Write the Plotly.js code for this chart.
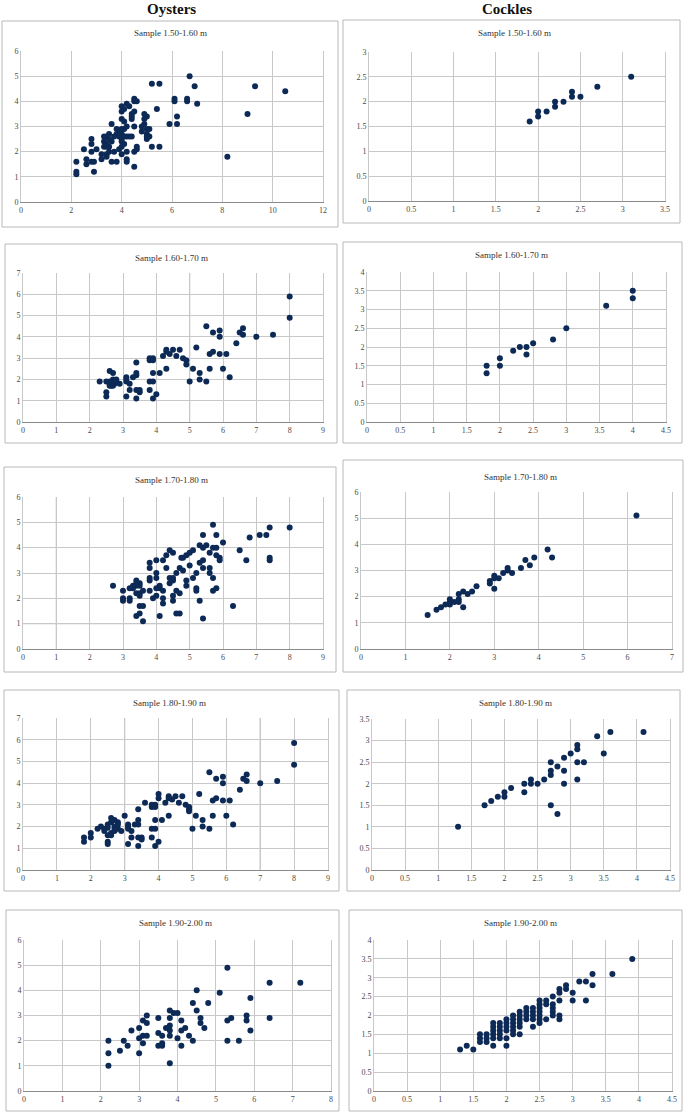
<!DOCTYPE html>
<html><head><meta charset="utf-8">
<script src="https://cdn.plot.ly/plotly-3.0.1.min.js"></script>
<style>html,body{margin:0;padding:0;background:#fff}#chart{width:685px;height:1114px}</style>
</head><body><div id="chart"></div>
<script>
const W = 685, H = 1114;
const columnHeaders = ['Oysters', 'Cockles'];
const sampleLabels = ['Sample 1.50-1.60 m', 'Sample 1.60-1.70 m', 'Sample 1.70-1.80 m', 'Sample 1.80-1.90 m', 'Sample 1.90-2.00 m'];

// Oysters, [x, y] points
const oysters150 = [[6.7,5.0],[6.9,4.6],[5.2,4.7],[5.5,4.7],[9.3,4.6],[10.5,4.4],[6.1,4.1],[6.1,4.0],[6.6,4.1],[6.6,4.0],[7.0,3.9],[9.0,3.5],[6.2,3.4],[5.9,3.1],[6.2,3.1],[5.4,3.7],[8.2,1.8],[5.2,2.2],[5.5,2.2],
[4.5,4.1],[4.6,4.0],[4.5,4.0],[4.2,3.9],[4.3,3.8],[4.0,3.8],[4.0,3.6],[4.1,3.7],[4.4,3.5],[4.5,3.6],[4.4,3.3],[4.5,3.0],[4.9,3.5],[5.0,3.4],[4.9,3.3],[4.9,3.1],[5.0,2.9],[5.1,2.9],[4.8,2.8],[5.0,2.7],[5.0,2.6],[5.1,2.6],[5.0,2.5],
[3.6,3.1],[4.0,3.3],[4.1,3.2],[3.8,2.9],[4.0,2.9],[4.1,2.9],[3.7,2.6],[3.8,2.7],[3.9,2.6],[4.0,2.7],[4.1,2.6],[4.2,2.6],[4.4,2.6],[4.0,2.5],[4.0,2.4],[4.1,2.3],[3.5,2.7],[3.4,2.6],[3.3,2.6],[3.3,2.4],[3.4,2.3],[3.5,2.2],[3.6,2.4],[3.4,2.2],[3.3,2.2],
[2.8,2.5],[2.8,2.3],[2.5,2.1],[3.0,2.1],[3.2,1.9],[3.4,1.9],[3.4,1.8],[2.8,2.0],[3.2,1.7],[2.6,1.7],[2.6,1.5],[2.8,1.6],[2.9,1.6],[2.2,1.6],[2.2,1.2],[2.2,1.1],[2.9,1.2],[3.6,1.6],[3.8,1.6],[3.7,2.0],[4.0,2.2],[4.0,1.9],[4.2,2.0],[4.2,1.7],[4.2,1.6],[4.5,2.0],[4.6,2.2],[4.5,1.4],[4.6,2.1],[3.5,2.0],[3.9,2.1],[4.3,2.6],[4.4,3.4],[4.2,3.0],[3.9,2.8],[3.5,2.5],[4.8,3.0]];

const oysters160 = [[8.0,5.9],[8.0,4.9],[5.5,4.5],[5.7,4.2],[5.9,4.3],[5.9,4.0],[6.5,4.2],[6.6,4.4],[6.6,4.1],[7.0,4.0],[7.5,4.1],[6.4,3.7],[5.2,3.5],[5.6,3.2],[5.7,3.3],[5.9,3.2],[6.1,3.2],[5.1,2.5],[5.3,2.3],[5.6,2.5],[6.0,2.5],[5.3,2.0],[5.5,1.9],[5.0,1.9],[6.2,2.1],
[4.9,2.9],[4.9,2.7],[4.8,3.0],[4.7,3.4],[4.5,3.4],[4.6,3.1],[4.3,3.4],[4.4,3.2],[4.2,3.1],[4.3,3.3],[4.3,2.5],[4.1,2.3],[3.9,2.3],[3.8,3.0],[3.9,3.0],[3.8,2.9],[3.9,2.9],[3.8,1.9],[3.9,1.9],[3.8,1.5],[4.0,1.3],[3.9,1.1],
[3.4,2.8],[3.4,2.3],[3.4,2.2],[3.3,2.1],[3.1,2.1],[3.1,1.9],[3.2,1.8],[3.1,2.0],[3.2,1.5],[3.4,1.5],[3.5,1.5],[3.5,1.4],[3.1,1.2],[3.4,1.1],
[2.3,1.9],[2.6,2.4],[2.7,2.3],[2.5,1.9],[2.6,1.9],[2.7,2.0],[2.75,1.9],[2.8,1.9],[2.65,1.7],[2.6,1.7],[2.75,1.8],[2.9,1.8],[2.5,1.4],[2.5,1.2],[2.6,1.8],[2.7,1.7],[2.8,2.0]];

const oysters170 = [[8.0,4.8],[7.4,4.8],[7.3,4.5],[7.1,4.5],[6.8,4.4],[6.5,3.9],[6.7,3.5],[7.4,3.6],[7.4,3.5],[6.3,1.7],[6.0,4.2],[5.7,4.9],[5.4,4.5],[5.8,4.5],[5.3,4.1],[5.4,4.0],[5.5,4.1],[5.7,4.0],[5.8,4.0],[5.6,3.8],[5.8,3.7],[5.9,3.6],[5.9,3.5],[5.4,3.5],[5.3,3.4],[5.4,3.2],[5.6,3.2],[5.6,3.0],[5.7,2.8],[5.8,2.4],[5.7,2.3],
[5.2,3.0],[5.1,2.8],[5.2,2.4],[5.2,2.3],[5.3,1.9],[5.4,1.2],[5.0,3.3],[5.0,3.8],[5.1,3.9],[4.9,3.7],[4.8,3.6],[4.75,3.6],[4.7,3.2],[4.8,3.1],[4.6,3.0],[4.9,2.7],[4.9,2.5],[4.5,3.8],[4.4,3.9],[4.3,3.7],[4.2,3.5],[4.3,3.2],[4.4,2.8],[4.5,2.7],[4.4,2.6],[4.5,2.8],[4.6,2.3],[4.7,2.2],[4.5,2.1],[4.5,1.9],[4.6,1.4],[4.7,1.4],
[4.0,3.5],[4.0,3.0],[4.0,2.8],[3.8,3.4],[3.8,3.2],[3.8,2.8],[3.8,2.7],[3.8,2.3],[4.1,2.5],[4.1,2.4],[4.0,2.4],[4.2,2.3],[3.9,2.0],[4.0,2.1],[4.2,2.0],[4.2,1.8],[4.1,1.3],[3.6,2.3],
[3.4,2.7],[3.4,2.6],[3.5,2.6],[3.4,2.5],[3.5,2.5],[3.3,2.5],[3.3,2.4],[3.2,2.4],[3.4,2.2],[3.5,2.2],[3.5,2.1],[3.0,2.3],[3.0,2.0],[3.0,1.9],[3.2,2.0],[3.2,1.9],[2.7,2.5],[3.5,1.7],[3.6,1.7],[3.4,1.3],[3.5,1.4],[3.6,1.1]];

const oysters180 = [[8.0,5.85],[8.0,4.85],[5.5,4.5],[5.7,4.2],[5.9,4.3],[5.9,4.0],[6.5,4.2],[6.6,4.4],[6.6,4.1],[7.0,4.0],[7.5,4.1],[6.4,3.7],[5.2,3.5],[5.6,3.2],[5.7,3.3],[5.9,3.2],[6.1,3.2],[5.1,2.5],[5.3,2.3],[5.3,2.0],[5.6,2.5],[6.0,2.5],[5.5,1.9],[5.0,1.9],[6.2,2.1],
[4.7,3.4],[4.8,3.0],[4.9,2.9],[4.9,2.7],[4.9,2.8],[4.6,3.1],[4.5,3.4],[4.3,3.4],[4.4,3.25],[4.2,3.1],[4.3,3.3],[4.0,3.5],[4.0,3.3],[4.3,2.5],[4.1,2.3],[3.6,3.1],[3.8,3.0],[3.9,3.0],[3.8,2.9],[3.9,2.9],[3.9,2.3],[3.8,1.9],[3.9,1.9],[3.8,1.5],[4.0,1.3],[3.9,1.1],
[3.4,2.8],[3.4,2.3],[3.4,2.1],[3.3,2.1],[3.0,2.5],[3.1,2.1],[3.1,1.9],[3.2,1.8],[3.1,2.0],[3.2,1.5],[3.4,1.5],[3.5,1.5],[3.5,1.4],[3.1,1.2],[3.4,1.1],
[2.2,1.9],[2.3,2.0],[2.4,1.9],[2.5,2.1],[2.5,1.95],[2.6,2.4],[2.7,2.3],[2.6,2.2],[2.8,2.2],[2.7,2.0],[2.8,1.9],[2.6,1.7],[2.7,1.8],[2.9,1.8],[2.5,1.6],[2.5,1.3],[2.5,1.2],[2.6,1.6],[2.4,1.8],[1.8,1.5],[1.8,1.3],[2.0,1.7],[2.0,1.5],[2.7,1.9],[2.8,2.1]];

const oysters190 = [[2.2,2.0],[2.2,1.5],[2.2,1.0],[2.5,1.6],[2.6,2.0],[2.7,1.8],[2.8,2.4],[3.0,2.5],[3.0,2.1],[3.0,1.5],[3.1,2.8],[3.2,2.7],[3.1,2.2],[3.1,1.9],[3.2,3.0],[3.2,2.2],[3.5,2.9],[3.5,2.3],[3.5,1.8],[3.6,1.9],[3.6,1.8],[3.6,2.2],[3.7,2.5],[3.8,3.2],[3.8,2.9],[3.8,2.6],[3.8,2.4],[3.8,2.2],[3.8,1.1],[3.9,3.1],[4.0,3.1],[4.0,2.1],[4.1,2.8],[4.1,2.4],[4.2,2.5],[4.1,1.8],[4.3,2.2],[4.4,3.5],[4.4,2.0],[4.5,4.0],[4.5,3.2],[4.6,2.9],[4.6,2.7],[4.7,2.5],[4.8,3.5],[5.1,3.9],[5.3,4.9],[5.3,2.8],[5.4,2.9],[5.3,2.0],[5.6,2.0],[5.8,3.0],[5.8,2.8],[5.9,3.7],[5.9,2.4],[6.4,4.3],[6.4,2.9],[7.2,4.3]];

// Cockles, [x, y] points
const cockles150 = [[1.9,1.6],[2.0,1.8],[2.0,1.7],[2.1,1.8],[2.2,2.0],[2.2,1.9],[2.3,2.0],[2.4,2.2],[2.4,2.1],[2.5,2.1],[2.7,2.3],[3.1,2.5]];
const cockles160 = [[1.8,1.5],[1.8,1.3],[2.0,1.7],[2.0,1.5],[2.2,1.9],[2.3,2.0],[2.4,2.0],[2.4,1.8],[2.5,2.1],[2.8,2.2],[3.0,2.5],[3.6,3.1],[4.0,3.5],[4.0,3.3]];
const cockles170 = [[1.5,1.3],[1.7,1.5],[1.8,1.6],[1.9,1.7],[2.0,1.9],[2.0,1.8],[2.0,1.7],[2.1,1.8],[2.2,1.9],[2.2,2.1],[2.2,1.8],[2.3,2.2],[2.3,1.6],[2.4,2.1],[2.5,2.2],[2.6,2.4],[2.9,2.6],[2.9,2.5],[3.0,2.8],[3.0,2.7],[3.0,2.3],[3.1,2.7],[3.2,2.9],[3.3,3.1],[3.3,3.0],[3.4,2.9],[3.6,3.1],[3.7,3.4],[3.8,3.2],[3.9,3.5],[4.2,3.8],[4.3,3.5],[6.2,5.1]];
const cockles180 = [[1.3,1.0],[1.7,1.5],[1.8,1.6],[1.9,1.7],[2.0,1.8],[2.0,1.7],[2.1,1.9],[2.3,2.0],[2.3,1.8],[2.4,2.1],[2.4,2.0],[2.5,2.0],[2.6,2.1],[2.7,2.5],[2.7,2.3],[2.7,2.2],[2.7,1.5],[2.8,2.4],[2.8,1.3],[2.9,2.6],[2.9,2.3],[2.9,2.0],[3.0,2.7],[3.1,2.9],[3.1,2.8],[3.1,2.5],[3.2,2.5],[3.1,2.1],[3.4,3.1],[3.5,2.7],[3.6,3.2],[4.1,3.2]];
const cockles190 = [[1.3,1.1],[1.4,1.2],[1.5,1.1],
[1.6,1.5],[1.6,1.4],[1.6,1.3],[1.7,1.5],[1.7,1.4],[1.7,1.3],
[1.8,1.8],[1.8,1.7],[1.8,1.6],[1.8,1.5],[1.8,1.4],[1.8,1.2],
[1.9,1.8],[1.9,1.7],[1.9,1.6],[1.9,1.5],[1.9,1.4],
[2.0,1.9],[2.0,1.8],[2.0,1.7],[2.0,1.6],[2.0,1.4],[2.0,1.2],
[2.1,2.0],[2.1,1.9],[2.1,1.8],[2.1,1.7],[2.1,1.6],[2.1,1.5],
[2.2,2.1],[2.2,2.0],[2.2,1.9],[2.2,1.8],[2.2,1.7],[2.2,1.5],
[2.3,2.2],[2.3,2.1],[2.3,2.0],[2.3,1.9],
[2.4,2.2],[2.4,2.1],[2.4,2.0],[2.4,1.9],[2.4,1.7],
[2.5,2.4],[2.5,2.3],[2.5,2.2],[2.5,2.1],[2.5,2.0],[2.5,1.9],[2.5,1.8],
[2.6,2.4],[2.6,2.3],[2.6,1.9],
[2.7,2.5],[2.7,2.3],[2.7,2.2],[2.7,2.1],[2.7,2.0],
[2.8,2.7],[2.8,2.6],[2.8,2.4],[2.8,2.0],[2.8,1.9],
[2.9,2.8],[2.9,2.7],[3.0,2.6],[3.0,2.4],[3.1,2.9],[3.2,2.9],[3.2,2.4],[3.3,3.1],[3.3,2.8],[3.6,3.1],[3.9,3.5]];

// axis extents and tick steps for each panel: [xMax, xStep, yMax, yStep]
const oysterAxes  = [[12,2,6,1],[9,1,7,1],[9,1,6,1],[9,1,7,1],[8,1,6,1]];
const cockleAxes  = [[3.5,0.5,3,0.5],[4.5,0.5,4,0.5],[7,1,6,1],[4.5,0.5,3.5,0.5],[4.5,0.5,4,0.5]];

// layout geometry (pixels): plot area [l, r, t, b], frame [l, r, t, b], title [cx, cy]
const panels = [
  {data: oysters150, ax: oysterAxes[0], plot:[21,323,51,202], frame:[2,338,21,227], title:[170,33], label: sampleLabels[0]},
  {data: cockles150, ax: cockleAxes[0], plot:[369,665,52,201], frame:[343,680,20,223], title:[514,33], label: sampleLabels[0]},
  {data: oysters160, ax: oysterAxes[1], plot:[23,323,273,422], frame:[5,337,244,443], title:[171,258], label: sampleLabels[1]},
  {data: cockles160, ax: cockleAxes[1], plot:[367,666,272,422], frame:[343,682,242,443], title:[512,255], label: sampleLabels[1]},
  {data: oysters170, ax: oysterAxes[2], plot:[23,323,497,649], frame:[4,336,467,672], title:[171,480], label: sampleLabels[2]},
  {data: cockles170, ax: cockleAxes[2], plot:[361,672,492,649], frame:[343,683,460,672], title:[520,477], label: sampleLabels[2]},
  {data: oysters180, ax: oysterAxes[3], plot:[23,328,718,870], frame:[4,339,690,891], title:[169,703], label: sampleLabels[3]},
  {data: cockles180, ax: cockleAxes[3], plot:[372,670,719,870], frame:[347,680,690,891], title:[515,703], label: sampleLabels[3]},
  {data: oysters190, ax: oysterAxes[4], plot:[24,331,940,1091], frame:[6,339,910,1111], title:[175,923], label: sampleLabels[4]},
  {data: cockles190, ax: cockleAxes[4], plot:[374,672,940,1091], frame:[349,682,910,1111], title:[520,923], label: sampleLabels[4]}
];

// darker grid lines visible in the picture: [panel index, axis, value]
const darkGrid = [[2,'x',5],[4,'x',1],[4,'y',1],[6,'x',3],[6,'x',7]];

const serif = 'Liberation Serif, Times New Roman, serif';
const tickFont = {family: serif, size: 8, color: '#4a4a4a'};
const gridCol = '#c8c8c8';
const dotCol = '#0d2a57';

const traces = [];
const layout = {
  width: W, height: H, margin: {l:0, r:0, t:0, b:0},
  paper_bgcolor: '#fff', plot_bgcolor: '#fff', showlegend: false,
  shapes: [], annotations: []
};
const px = v => v / W, py = v => 1 - v / H;

panels.forEach((p, i) => {
  const n = i + 1, sfx = n === 1 ? '' : String(n);
  traces.push({
    type: 'scatter', mode: 'markers',
    x: p.data.map(d => d[0]), y: p.data.map(d => d[1]),
    xaxis: 'x' + sfx, yaxis: 'y' + sfx,
    marker: {color: dotCol, size: 6, line: {width: 0}},
    hoverinfo: 'skip'
  });
  const [xMax, xStep, yMax, yStep] = p.ax;
  layout['xaxis' + sfx] = {
    domain: [px(p.plot[0]), px(p.plot[1])], anchor: 'y' + sfx,
    range: [0, xMax], tick0: 0, dtick: xStep, showgrid: true, gridcolor: gridCol, gridwidth: 1,
    showline: true, linecolor: '#8a8a8a', linewidth: 1, zeroline: false, ticks: '',
    tickfont: tickFont, fixedrange: true
  };
  layout['yaxis' + sfx] = {
    domain: [py(p.plot[3]), py(p.plot[2])], anchor: 'x' + sfx,
    range: [0, yMax], tick0: 0, dtick: yStep, showgrid: true, gridcolor: gridCol, gridwidth: 1,
    showline: true, mirror: true, linecolor: gridCol, linewidth: 1, zeroline: false, ticks: '',
    tickfont: tickFont, fixedrange: true
  };
  layout.shapes.push({type: 'rect', xref: 'paper', yref: 'paper',
    x0: px(p.frame[0]), x1: px(p.frame[1]), y0: py(p.frame[3]), y1: py(p.frame[2]),
    line: {color: '#b8b8b8', width: 1}, fillcolor: 'rgba(0,0,0,0)', layer: 'below'});
  layout.annotations.push({xref: 'paper', yref: 'paper', x: px(p.title[0]), y: py(p.title[1]),
    xanchor: 'center', yanchor: 'middle', showarrow: false, text: p.label,
    font: {family: serif, size: 9, color: '#333'}});
});

darkGrid.forEach(([pi, axis, v]) => {
  const sfx = pi === 0 ? '' : String(pi + 1);
  if (axis === 'x') {
    layout.shapes.push({type: 'line', xref: 'x' + sfx, yref: 'y' + sfx + ' domain', x0: v, x1: v, y0: 0, y1: 1,
      line: {color: '#9a9a9a', width: 1}, layer: 'below'});
  } else {
    layout.shapes.push({type: 'line', xref: 'x' + sfx + ' domain', yref: 'y' + sfx, x0: 0, x1: 1, y0: v, y1: v,
      line: {color: '#9a9a9a', width: 1}, layer: 'below'});
  }
});

const headerX = [171, 507];
columnHeaders.forEach((h, i) => {
  layout.annotations.push({xref: 'paper', yref: 'paper', x: px(headerX[i]), y: py(9),
    xanchor: 'center', yanchor: 'middle', showarrow: false, text: '<b>' + h + '</b>',
    font: {family: serif, size: 15, color: '#111'}});
});

Plotly.newPlot('chart', traces, layout, {staticPlot: true, displayModeBar: false});
</script>
</body></html>
